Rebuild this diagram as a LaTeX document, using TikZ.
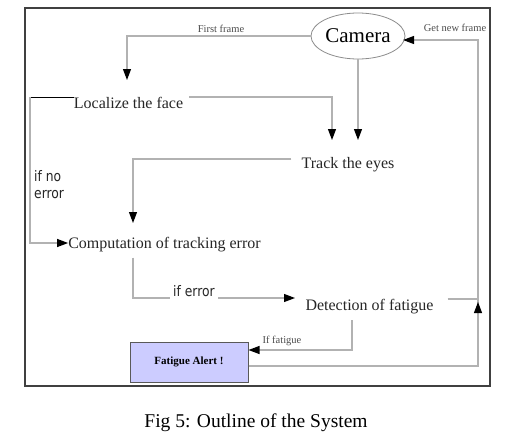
\documentclass[tikz,border=0pt]{standalone}
\usepackage{fontspec}
\setmainfont{Liberation Serif}
\newfontfamily\labsans[FakeStretch=0.85]{DejaVu Sans}
\usetikzlibrary{arrows.meta,shapes.geometric}
\begin{document}
\begin{tikzpicture}[x=1pt,y=-1pt,
  line/.style={draw=black!30, line width=1.1pt},
  arr/.style={line, -{Triangle[length=11pt,width=8pt,color=black]}},
  txt/.style={font=\fontsize{16}{19}\selectfont, text=black!85, inner sep=0pt},
  lab/.style={font=\fontsize{10.5}{12}\selectfont, text=black!70, inner sep=0pt},
  sanslab/.style={font=\labsans\fontsize{14.5}{17}\selectfont, text=black!85, inner sep=0pt},
  alertbox/.style={draw=black!65, line width=1pt, fill={rgb,255:red,204;green,204;blue,255},
    minimum width=118pt, minimum height=40pt, inner sep=0pt,
    font=\bfseries\fontsize{11}{13}\selectfont}]
\fill[white] (0,0) rectangle (516,439);
\useasboundingbox (0,0) rectangle (516,439);

% frame
\draw[black!75, line width=2pt] (25,8) rectangle (490,386);

% nodes
\node[ellipse, draw=black!45, line width=0.8pt, minimum width=94pt, minimum height=46pt,
      inner sep=0pt, font=\fontsize{21}{24}\selectfont] (camera) at (358,36) {Camera};
\node[txt] (localize) at (128.5,103) {Localize the face};
\node[txt] (track) at (348,165) {Track the eyes};
\node[txt] (comp) at (164.5,245) {Computation of tracking error};
\node[txt] (detection) at (369.5,307) {Detection of fatigue};
\node[alertbox] (alert) at (189,362) {Fatigue Alert !};

% coordinates
\coordinate (locin) at (127,80);
\coordinate (tr1) at (332,140);
\coordinate (tr2) at (358,140);
\coordinate (lz) at (30,97);
\coordinate (lb) at (30,243);
\coordinate (tkl) at (133,159);
\coordinate (compin) at (133,223);
\coordinate (ce) at (133,298);
\coordinate (detin) at (295,298);
\coordinate (rt) at (478,299);
\coordinate (ds) at (352,320);
\coordinate (ac) at (352,350);
\coordinate (rb) at (478,366);
\coordinate (rtop) at (478,40);
\coordinate (cin) at (403,40);
\coordinate (mid1) at (478,316);
\coordinate (mid2) at (478,302);

% connectors
\draw[arr] (camera.west) -| (locin);
\draw[arr] (camera.south) -- (tr2);
\draw[arr] (localize.east |- lz) ++(6,0) -| (tr1);
\draw[black, line width=1pt] (lz) -- (lz -| localize.west);
\draw[arr] (lz) -- (lb) -- (lb -| comp.west);
\draw[arr] ([xshift=-10pt]tkl -| track.west) -- (tkl) -- (compin);
\draw[arr] ([yshift=-5pt]comp.south -| ce) -- (ce) -- (detin);
\draw[line] ([xshift=14pt]detection.east |- rt) -- (rt);
\draw[arr] (ds) -- (ac) -- (ac -| alert.east);
\draw[arr] (alert.east |- rb) -- (rb) -- (rtop) -- (cin);
\draw[arr] (mid1) -- (mid2);

% labels
\node[lab] (lfirst) at (221,29) {First frame};
\node[lab] (lget) at (455,28) {Get new frame};
\node[lab] (lfat) at (282,341) {If fatigue};
\node[sanslab, fill=white, inner xsep=3pt, inner ysep=3pt] (lerr) at (194,291) {if error};
\node[sanslab, align=left, anchor=north west] (lnoerr) at (34,170) {if no\\error};
\node[font=\fontsize{19.5}{22}\selectfont, inner sep=0pt] (caption) at (256,423) {Fig 5: Outline of the System};
\end{tikzpicture}
\end{document}
